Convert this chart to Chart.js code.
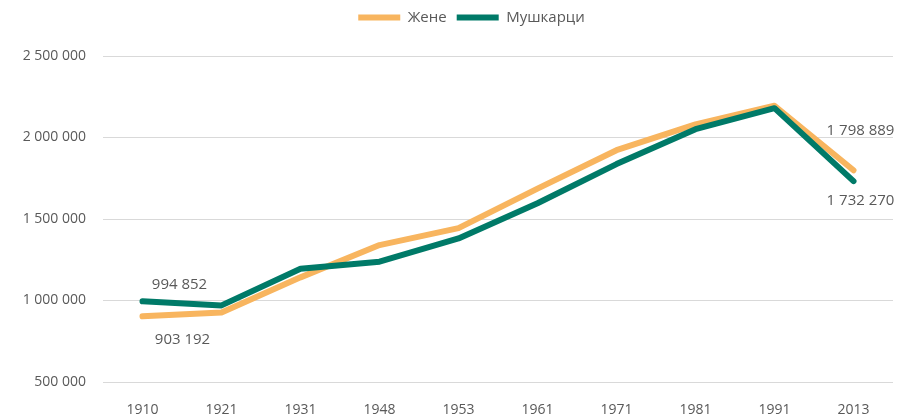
<!DOCTYPE html>
<html>
<head>
<meta charset="utf-8">
<script src="https://cdn.jsdelivr.net/npm/chart.js@4"></script>
<style>
  html, body { margin: 0; padding: 0; background: #fff; }
  #wrap { width: 921px; height: 415px; }
</style>
</head>
<body>
<div id="wrap"><canvas id="chart"></canvas></div>
<script>
const YEARS = ["1910", "1921", "1931", "1948", "1953", "1961", "1971", "1981", "1991", "2013"];

const WOMEN = [903192, 927000, 1142000, 1340000, 1444000, 1686000, 1922000, 2080000, 2195000, 1798889];
const MEN = [994852, 970000, 1195000, 1238000, 1381000, 1597000, 1837000, 2051000, 2180000, 1732270];

const Y_TICKS = [500000, 1000000, 1500000, 2000000, 2500000];

const ORANGE = "#F8B55F";
const GREEN = "#007A68";
const TEXT = "#595959";
const FONT = "'Open Sans', sans-serif";

function fmt(v) {
  return String(v).replace(/\B(?=(\d{3})+(?!\d))/g, " ");
}

// labels only on the first and last points, like the original
const endLabels = {
  id: "endLabels",
  afterDatasetsDraw(c) {
    const ctx = c.ctx;
    const x = c.scales.x;
    const y = c.scales.y;
    const last = YEARS.length - 1;
    const items = [
      { v: MEN[0], i: 0, dx: 37, dy: -17 },
      { v: WOMEN[0], i: 0, dx: 40, dy: 23 },
      { v: WOMEN[last], i: last, dx: 7, dy: -40 },
      { v: MEN[last], i: last, dx: 7, dy: 20 }
    ];
    ctx.save();
    ctx.font = "15px " + FONT;
    ctx.fillStyle = TEXT;
    ctx.textAlign = "center";
    ctx.textBaseline = "middle";
    items.forEach(it => {
      ctx.fillText(fmt(it.v), x.getPixelForValue(it.i) + it.dx, y.getPixelForValue(it.v) + it.dy);
    });
    ctx.restore();
  }
};

// extra room under the legend, and nudge it a bit to the right
const legendGap = {
  id: "legendGap",
  beforeInit(c) {
    const fit = c.legend.fit;
    c.legend.fit = function () {
      fit.call(this);
      this.height += 21;
    };
  },
  afterLayout(c) {
    c.legend.left += 25;
    c.legend.right += 25;
  }
};

new Chart(document.getElementById("chart"), {
  type: "line",
  data: {
    labels: YEARS,
    datasets: [
      {
        label: "Жене",
        data: WOMEN,
        borderColor: ORANGE,
        backgroundColor: ORANGE,
        borderWidth: 6,
        borderCapStyle: "round",
        borderJoinStyle: "round",
        pointRadius: 0,
        tension: 0,
        order: 1
      },
      {
        label: "Мушкарци",
        data: MEN,
        borderColor: GREEN,
        backgroundColor: GREEN,
        borderWidth: 6,
        borderCapStyle: "round",
        borderJoinStyle: "round",
        pointRadius: 0,
        tension: 0,
        order: 0
      }
    ]
  },
  options: {
    responsive: true,
    maintainAspectRatio: false,
    animation: false,
    layout: { padding: { top: 0, right: 28, left: 0, bottom: 0 } },
    plugins: {
      legend: {
        position: "top",
        labels: {
          usePointStyle: true,
          pointStyle: "line",
          pointStyleWidth: 42,
          boxHeight: 6,
          color: TEXT,
          font: { family: FONT, size: 15 },
          padding: 10,
          sort: (a, b) => a.datasetIndex - b.datasetIndex
        }
      },
      tooltip: { enabled: false }
    },
    scales: {
      x: {
        offset: true,
        grid: { display: false },
        border: { display: false },
        ticks: { color: TEXT, font: { family: FONT, size: 14 }, padding: 12 },
        afterFit(s) { s.height = 33; }
      },
      y: {
        min: 500000,
        max: 2500000,
        afterBuildTicks(s) { s.ticks = Y_TICKS.map(v => ({ value: v })); },
        grid: { color: "#D9D9D9", lineWidth: 1, drawTicks: false },
        border: { display: false },
        ticks: {
          color: TEXT,
          font: { family: FONT, size: 14 },
          padding: 17,
          callback: v => fmt(v)
        },
        afterFit(s) { s.width = 103; }
      }
    }
  },
  plugins: [endLabels, legendGap]
});
</script>
</body>
</html>
